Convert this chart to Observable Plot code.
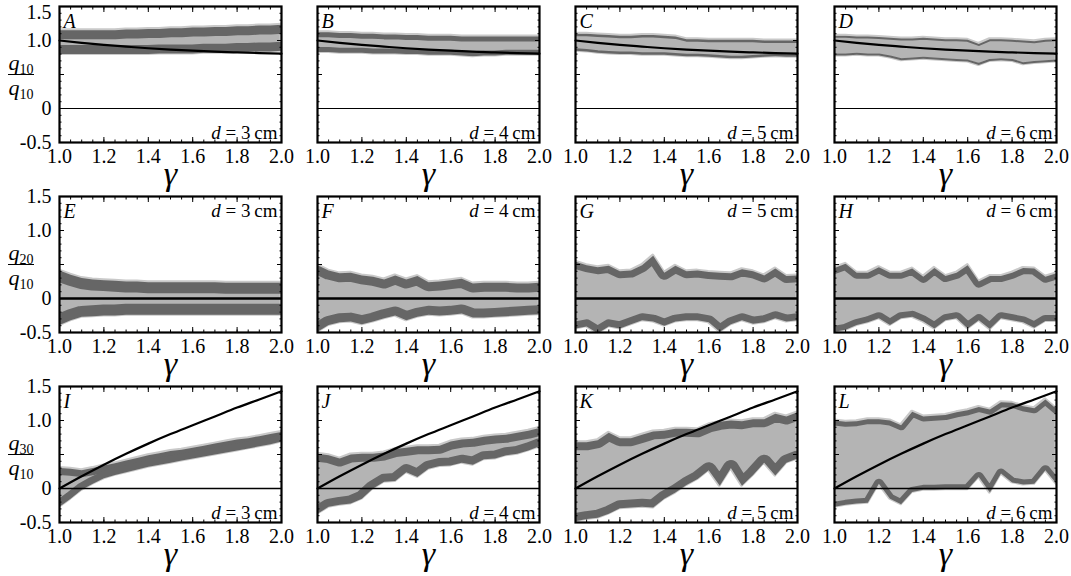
<!DOCTYPE html>
<html><head><meta charset="utf-8">
<script src="https://cdn.jsdelivr.net/npm/d3@7"></script>
<script src="https://cdn.jsdelivr.net/npm/@observablehq/plot@0.6"></script>
<style>
body{margin:0;background:#fff;}
#root{position:relative;width:1071px;height:576px;overflow:hidden;font-family:"Liberation Serif",serif;background:#fff;}
.panel{position:absolute;}
.fr{position:absolute;width:30px;text-align:center;font-size:22px;line-height:20px;white-space:nowrap;}
.fr i{font-style:italic}
.fr sub{font-size:14px;vertical-align:-4px;line-height:0}
.bar{position:absolute;height:0;border-top:1.4px solid #000;width:26px;}
</style></head><body><div id="root"></div>
<script>
// ---------- data ----------
const gammas = [1.00,1.05,1.10,1.15,1.20,1.25,1.30,1.35,1.40,1.45,1.50,1.55,1.60,1.65,1.70,1.75,1.80,1.85,1.90,1.95,2.00];
const curveGammas = [1.0,1.1,1.2,1.3,1.4,1.5,1.6,1.7,1.8,1.9,2.0];
const curveRow1 = [1.0,0.965,0.935,0.91,0.886,0.866,0.85,0.836,0.825,0.815,0.806];
const curveRow3 = [0.0,0.18,0.35,0.51,0.66,0.80,0.93,1.06,1.19,1.31,1.43];

const upperA = [1.15,1.15,1.15,1.15,1.15,1.15,1.16,1.16,1.17,1.17,1.18,1.18,1.19,1.19,1.20,1.20,1.21,1.21,1.22,1.22,1.23];
const lowerA = [0.80,0.80,0.80,0.80,0.80,0.80,0.80,0.80,0.80,0.81,0.81,0.81,0.81,0.82,0.82,0.82,0.83,0.83,0.84,0.84,0.85];
const upperB = [1.12,1.12,1.11,1.11,1.10,1.10,1.09,1.09,1.08,1.08,1.07,1.07,1.07,1.06,1.06,1.06,1.06,1.06,1.06,1.06,1.06];
const lowerB = [0.83,0.83,0.82,0.82,0.82,0.81,0.81,0.81,0.80,0.80,0.79,0.79,0.79,0.78,0.77,0.78,0.78,0.79,0.79,0.79,0.79];
const upperC = [1.10,1.10,1.09,1.08,1.07,1.07,1.08,1.08,1.07,1.06,1.02,1.02,1.01,1.01,1.01,1.01,1.01,1.00,1.00,1.00,1.00];
const lowerC = [0.85,0.84,0.82,0.81,0.80,0.80,0.79,0.79,0.79,0.78,0.77,0.77,0.76,0.75,0.74,0.74,0.75,0.76,0.77,0.76,0.76];
const upperD = [1.07,1.07,1.06,1.06,1.05,1.04,1.03,1.03,1.04,1.03,1.02,1.02,1.01,0.95,1.02,1.02,1.01,1.00,0.99,1.01,1.02];
const lowerD = [0.78,0.78,0.79,0.78,0.78,0.75,0.71,0.72,0.73,0.72,0.71,0.70,0.69,0.64,0.70,0.71,0.70,0.65,0.67,0.68,0.69];
const upperE = [0.41,0.35,0.30,0.28,0.27,0.26,0.25,0.25,0.24,0.24,0.24,0.24,0.24,0.24,0.24,0.23,0.23,0.23,0.23,0.23,0.23];
const lowerE = [-0.39,-0.32,-0.27,-0.26,-0.25,-0.25,-0.24,-0.24,-0.24,-0.24,-0.24,-0.24,-0.24,-0.24,-0.24,-0.24,-0.24,-0.24,-0.24,-0.24,-0.24];
const upperF = [0.49,0.41,0.37,0.38,0.34,0.32,0.28,0.34,0.28,0.33,0.24,0.25,0.27,0.29,0.22,0.23,0.23,0.23,0.22,0.22,0.23];
const lowerF = [-0.49,-0.39,-0.35,-0.34,-0.38,-0.34,-0.29,-0.25,-0.32,-0.27,-0.24,-0.25,-0.24,-0.22,-0.28,-0.28,-0.27,-0.26,-0.25,-0.24,-0.23];
const upperG = [0.54,0.49,0.46,0.48,0.40,0.41,0.49,0.63,0.38,0.48,0.40,0.41,0.39,0.38,0.37,0.43,0.40,0.34,0.44,0.33,0.34];
const lowerG = [-0.44,-0.41,-0.51,-0.41,-0.44,-0.38,-0.32,-0.34,-0.40,-0.34,-0.32,-0.32,-0.35,-0.49,-0.38,-0.32,-0.37,-0.35,-0.29,-0.34,-0.32];
const upperH = [0.45,0.51,0.38,0.38,0.46,0.38,0.38,0.44,0.32,0.45,0.33,0.38,0.49,0.25,0.33,0.33,0.38,0.45,0.44,0.32,0.37];
const lowerH = [-0.49,-0.46,-0.39,-0.35,-0.29,-0.39,-0.29,-0.27,-0.34,-0.44,-0.32,-0.29,-0.44,-0.32,-0.45,-0.29,-0.32,-0.35,-0.43,-0.33,-0.33];
const upperI = [0.30,0.29,0.27,0.30,0.34,0.37,0.41,0.45,0.49,0.52,0.55,0.57,0.60,0.63,0.66,0.69,0.72,0.74,0.77,0.80,0.83];
const lowerI = [-0.27,-0.15,-0.02,0.07,0.15,0.20,0.24,0.28,0.32,0.35,0.38,0.41,0.44,0.47,0.50,0.53,0.56,0.59,0.62,0.65,0.69];
const upperJ = [0.51,0.49,0.44,0.50,0.51,0.51,0.53,0.58,0.60,0.62,0.62,0.63,0.69,0.72,0.73,0.76,0.78,0.79,0.82,0.85,0.89];
const lowerJ = [-0.37,-0.27,-0.24,-0.22,-0.15,0.00,0.10,0.11,0.24,0.17,0.29,0.33,0.34,0.38,0.35,0.43,0.44,0.49,0.51,0.56,0.62];
const upperK = [0.68,0.68,0.71,0.82,0.74,0.74,0.79,0.84,0.85,0.88,0.88,0.87,0.94,0.98,1.00,0.99,1.02,1.02,1.10,1.06,1.12];
const lowerK = [-0.48,-0.45,-0.43,-0.37,-0.29,-0.28,-0.27,-0.28,-0.15,-0.06,0.05,0.14,0.27,0.04,0.30,0.04,0.20,0.38,0.19,0.38,0.44];
const upperL = [1.00,0.98,0.99,1.02,1.02,1.00,0.93,1.13,1.06,1.07,1.08,1.12,1.15,1.20,1.16,1.27,1.26,1.21,1.18,1.31,1.17];
const lowerL = [-0.27,-0.24,-0.22,-0.21,0.07,-0.15,-0.23,-0.05,-0.02,-0.02,-0.01,-0.01,-0.01,0.17,-0.06,0.22,0.09,0.06,0.07,0.27,0.07];

const panelLetters = ["A","B","C","D","E","F","G","H","I","J","K","L"];
const distances = [3,4,5,6];
const numeratorSubs = ["10","20","30"];
const xTickValues = [1.0,1.2,1.4,1.6,1.8,2.0];
const xTickLabels = ["1.0","1.2","1.4","1.6","1.8","2.0"];
const yTickValues = [-0.5,0,1.0,1.5];
const yTickLabels = ["-0.5","0","1.0","1.5"];

const uppers = [upperA,upperB,upperC,upperD,upperE,upperF,upperG,upperH,upperI,upperJ,upperK,upperL];
const lowers = [lowerA,lowerB,lowerC,lowerD,lowerE,lowerF,lowerG,lowerH,lowerI,lowerJ,lowerK,lowerL];

// ---------- styling / layout ----------
const edgePx = [9,5,2.5,2, 11,9,7,6, 7,8,8,5];
const zeroWidth = [1, 2.6, 1.6];
const colLeft = [59,317,575,834];
const rowTop = [6,196,386];
const FW = 222, FH = 136;
const ML = 52, MR = 10, MT = 8, MB = 56;
const FONT = "Liberation Serif";
const xLab = new Map(xTickValues.map((v,i)=>[v,xTickLabels[i]]));
const yLab = new Map(yTickValues.map((v,i)=>[v,yTickLabels[i]]));
const xMinor = d3.range(1, 2.0001, 0.05);
const yMinor = d3.range(-0.5, 1.5001, 0.1);

const root = document.getElementById("root");
const NS = "http://www.w3.org/2000/svg";

for (let i = 0; i < 12; i++) {
  const r = Math.floor(i/4), c = i % 4;
  const data = gammas.map((g,k)=>({g, hi: uppers[i][k], lo: lowers[i][k]}));
  const marks = [
    Plot.areaY(data, {x:"g", y1:"lo", y2:"hi", fill:"#b4b4b4", stroke:"#c9c9c9", strokeWidth:3, clip:true}),
    Plot.line(data, {x:"g", y:"hi", stroke:"#666666", strokeWidth:2*edgePx[i]}),
    Plot.line(data, {x:"g", y:"lo", stroke:"#666666", strokeWidth:2*edgePx[i]}),
    Plot.ruleY([0], {stroke:"#000", strokeWidth: zeroWidth[r]})
  ];
  if (r === 0) marks.push(Plot.line(curveGammas.map((g,k)=>({g, v: curveRow1[k]})), {x:"g", y:"v", stroke:"#000", strokeWidth:2.2, curve:"monotone-x"}));
  if (r === 2) marks.push(Plot.line(curveGammas.map((g,k)=>({g, v: curveRow3[k]})), {x:"g", y:"v", stroke:"#000", strokeWidth:2.2, curve:"monotone-x"}));
  const tickOpts = {tickFormat: () => "", label: null, strokeWidth: 1};
  marks.push(
    Plot.axisX({anchor:"bottom", ticks: xMinor, tickSize:-2.5, ...tickOpts}),
    Plot.axisX({anchor:"top", ticks: xMinor, tickSize:-2.5, ...tickOpts}),
    Plot.axisX({anchor:"bottom", ticks: xTickValues, tickSize:-5, ...tickOpts}),
    Plot.axisX({anchor:"top", ticks: xTickValues, tickSize:-5, ...tickOpts}),
    Plot.axisY({anchor:"left", ticks: yMinor, tickSize:-2.5, ...tickOpts}),
    Plot.axisY({anchor:"right", ticks: yMinor, tickSize:-2.5, ...tickOpts}),
    Plot.axisY({anchor:"left", ticks: [-0.5,0,0.5,1.0,1.5], tickSize:-5, ...tickOpts}),
    Plot.axisY({anchor:"right", ticks: [-0.5,0,0.5,1.0,1.5], tickSize:-5, ...tickOpts}),
    Plot.axisX({anchor:"bottom", ticks: xTickValues, tickSize:0, tickPadding:6, tickFormat: d => xLab.get(d), label:null, fontSize:20}),
    Plot.frame({stroke:"#000", strokeWidth:2.2}),
    Plot.text([panelLetters[i]], {frameAnchor:"top-left", dx:4, dy:7, lineAnchor:"top", textAnchor:"start", fontSize:20, fontStyle:"italic"}),
    Plot.text([distances[c]], {frameAnchor: r===1 ? "top-right" : "bottom-right", dx:-4, dy: r===1 ? 7 : -4,
      lineAnchor: r===1 ? "top" : "bottom", textAnchor:"end", fontSize:19, text: d => "d = " + d + "\u2009cm"}),
    Plot.text(["\u03b3"], {frameAnchor:"bottom", dy:42, fontSize:34, fontStyle:"italic"})
  );
  if (c === 0) {
    marks.push(Plot.axisY({anchor:"left", ticks: yTickValues.filter(v => v !== 1.5), tickSize:0, tickPadding:8, tickFormat: d => yLab.get(d), label:null, fontSize:20}));
    marks.push(Plot.axisY({anchor:"left", ticks: [1.5], tickSize:0, tickPadding:8, dy: r === 0 ? 6 : 0, tickFormat: d => yLab.get(d), label:null, fontSize:20}));
  }

  const svg = Plot.plot({
    width: ML+FW+MR, height: MT+FH+MB,
    marginLeft: ML, marginRight: MR, marginTop: MT, marginBottom: MB,
    x: {domain:[1,2], label:null}, y: {domain:[-0.5,1.5], label:null},
    style: {fontFamily: FONT, fontSize:"18px", background:"transparent", overflow:"visible", color:"#000"},
    marks
  });
  // clip thick edge strokes to the band polygon so they form inner dark rims
  const band = svg.querySelector('g[aria-label="area"] path');
  const lines = svg.querySelectorAll('g[aria-label="line"]');
  if (band) {
    const defs = document.createElementNS(NS, "defs");
    const cp = document.createElementNS(NS, "clipPath");
    cp.setAttribute("id", "bandclip" + i);
    const p = document.createElementNS(NS, "path");
    p.setAttribute("d", band.getAttribute("d"));
    cp.appendChild(p); defs.appendChild(cp); svg.insertBefore(defs, svg.firstChild);
    [lines[0], lines[1]].forEach(g => g && g.querySelectorAll("path").forEach(e => e.setAttribute("clip-path", `url(#bandclip${i})`)));
  }
  const texts = svg.querySelectorAll('g[aria-label="text"]');
  const dGroup = texts[1];
  if (dGroup) dGroup.querySelectorAll("text").forEach(t => {
    const s = t.textContent; t.textContent = "";
    const ts = document.createElementNS(NS, "tspan");
    ts.setAttribute("font-style", "italic"); ts.textContent = "d";
    t.appendChild(ts); t.appendChild(document.createTextNode(s.slice(1)));
  });
  const div = document.createElement("div");
  div.className = "panel";
  div.style.left = (colLeft[c] - ML) + "px";
  div.style.top = (rowTop[r] - MT) + "px";
  div.appendChild(svg);
  root.appendChild(div);
}

// y-axis fraction labels (left column)
for (let r = 0; r < 3; r++) {
  const barY = rowTop[r] + FH * 0.75 - 34;
  const num = document.createElement("div");
  num.className = "fr"; num.style.left = "6px"; num.style.top = (barY - 21) + "px";
  num.innerHTML = `<i>q</i><sub>${numeratorSubs[r]}</sub>`;
  const bar = document.createElement("div");
  bar.className = "bar"; bar.style.left = "8px"; bar.style.top = barY + "px";
  const den = document.createElement("div");
  den.className = "fr"; den.style.left = "6px"; den.style.top = (barY + 4) + "px";
  den.innerHTML = `<i>q</i><sub>10</sub>`;
  root.append(num, bar, den);
}
</script></body></html>
